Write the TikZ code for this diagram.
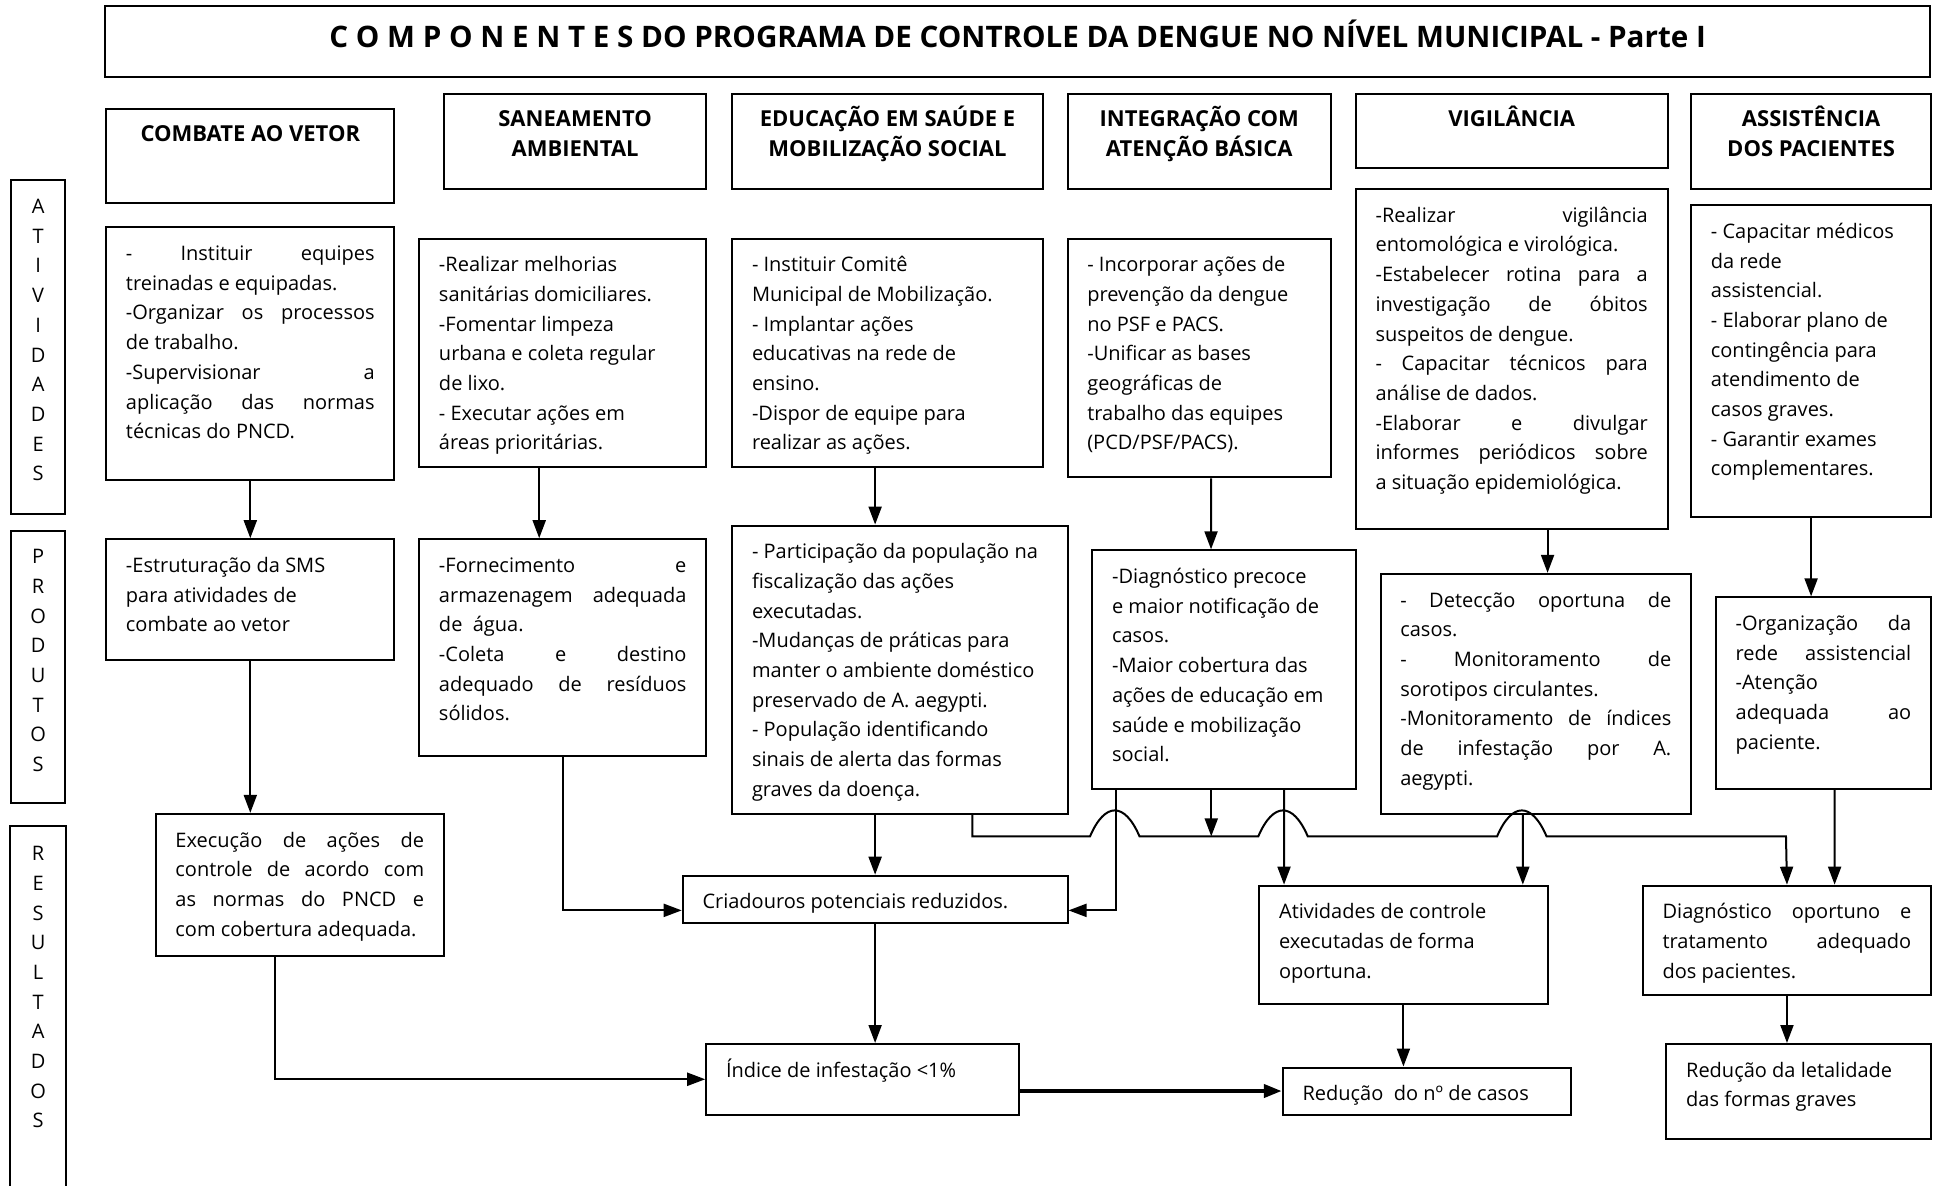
\documentclass[tikz,border=0pt]{standalone}
\usepackage{fontspec}
\setmainfont{Open Sans}
\usetikzlibrary{arrows.meta,positioning}
\newlength{\unitpx}
\setlength{\unitpx}{0.6186pt}
\newcommand{\cellbox}[3]{\parbox[c][#2\unitpx][t]{#1\unitpx}{\leavevmode\strut#3}}
\newcommand{\jl}[1]{\makebox[\linewidth][s]{#1}}

\begin{document}
\begin{tikzpicture}[
    x=0.6186pt, y=-0.6186pt,
    cell/.style={rectangle, draw, line width=1pt, anchor=north west, inner xsep=16\unitpx, inner ysep=10\unitpx, font=\fontsize{10}{14.85}\selectfont},
    head/.style={cell, inner xsep=4\unitpx, font=\bfseries\fontsize{11}{14.85}\selectfont},
    side/.style={rectangle, draw, line width=1pt, anchor=north west, inner xsep=0pt, inner ysep=10\unitpx, font=\fontsize{10}{14.85}\selectfont},
    arrow/.style={-{Triangle[length=9pt,width=6.5pt]}, line width=1pt},
    link/.style={line width=1pt}
]
\useasboundingbox (0,0) rectangle (1568,958);

% Title
\node[draw, line width=1pt, minimum width=1475\unitpx, minimum height=57\unitpx, text height=11pt, text depth=5.4pt, font=\bfseries\fontsize{14.8}{18}\selectfont] (title) at (822.5,33.5) {C O M P O N E N T E S DO PROGRAMA DE CONTROLE DA DENGUE NO NÍVEL MUNICIPAL - Parte I};

% Side labels
\node[side] (s1) at (8,145) {\cellbox{44}{250}{\centering A\\T\\I\\V\\I\\D\\A\\D\\E\\S}\hspace{14\unitpx}};
\node[side] (s2) at (8,428) {\cellbox{44}{200}{\centering P\\R\\O\\D\\U\\T\\O\\S}\hspace{14\unitpx}};
\node[side, draw=none] (s3) at (8,668) {\cellbox{44}{270}{\centering R\\E\\S\\U\\L\\T\\A\\D\\O\\S}\hspace{14\unitpx}};
\draw[link] (s3.south west) -- (s3.north west) -- (s3.north east) -- (s3.south east);

% Components
\node[head] (h1) at (85,87) {\cellbox{225}{56}{\centering COMBATE AO VETOR}};
\node[head] (h2) at (358,75) {\cellbox{204}{57}{\centering SANEAMENTO\\AMBIENTAL}};
\node[head] (h3) at (591,75) {\cellbox{243}{57}{\centering EDUCAÇÃO EM SAÚDE E\\MOBILIZAÇÃO SOCIAL}};
\node[head] (h4) at (862,75) {\cellbox{205}{57}{\centering INTEGRAÇÃO COM\\ATENÇÃO BÁSICA}};
\node[head] (h5) at (1095,75) {\cellbox{244}{40}{\centering VIGILÂNCIA}};
\node[head] (h6) at (1366,75) {\cellbox{186}{57}{\centering ASSISTÊNCIA\\DOS PACIENTES}};

% Atividades
\node[cell] (a1) at (85,183) {\cellbox{201}{184}{\jl{- Instituir equipes}\\treinadas e equipadas.\\\jl{-Organizar os processos}\\de trabalho.\\\jl{-Supervisionar a}\\\jl{aplicação das normas}\\técnicas do PNCD.}};
\node[cell] (a2) at (338,192) {\cellbox{200}{165}{-Realizar melhorias\\sanitárias domiciliares.\\-Fomentar limpeza\\urbana e coleta regular\\de lixo.\\- Executar ações em\\áreas prioritárias.}};
\node[cell] (a3) at (591,192) {\cellbox{219}{165}{- Instituir Comitê\\Municipal de Mobilização.\\- Implantar ações\\educativas na rede de\\ensino.\\-Dispor de equipe para\\realizar as ações.}};
\node[cell] (a4) at (862,192) {\cellbox{181}{173}{- Incorporar ações de\\prevenção da dengue\\no PSF e PACS.\\-Unificar as bases\\geográficas de\\trabalho das equipes\\(PCD/PSF/PACS).}};
\node[cell] (a5) at (1095,152) {\cellbox{220}{255}{\jl{-Realizar vigilância}\\entomológica e virológica.\\\jl{-Estabelecer rotina para a}\\\jl{investigação de óbitos}\\suspeitos de dengue.\\\jl{- Capacitar técnicos para}\\análise de dados.\\\jl{-Elaborar e divulgar}\\\jl{informes periódicos sobre}\\a situação epidemiológica.}};
\node[cell] (a6) at (1366,165) {\cellbox{162}{232}{- Capacitar médicos\\da rede\\assistencial.\\- Elaborar plano de\\contingência para\\atendimento de\\casos graves.\\- Garantir exames\\complementares.}};

% Produtos
\node[cell] (p1) at (85,435) {\cellbox{201}{78}{-Estruturação da SMS\\para atividades de\\combate ao vetor}};
\node[cell] (p2) at (338,435) {\cellbox{200}{155}{\jl{-Fornecimento e}\\\jl{armazenagem adequada}\\de\ \ água.\\\jl{-Coleta e destino}\\\jl{adequado de resíduos}\\sólidos.}};
\node[cell] (p3) at (591,424) {\cellbox{239}{213}{- Participação da população na\\fiscalização das ações\\executadas.\\-Mudanças de práticas para\\manter o ambiente doméstico\\preservado de A. aegypti.\\- População identificando\\sinais de alerta das formas\\graves da doença.}};
\node[cell] (p4) at (882,444) {\cellbox{181}{173}{-Diagnóstico precoce\\e maior notificação de\\casos.\\-Maior cobertura das\\ações de educação em\\saúde e mobilização\\social.}};
\node[cell] (p5) at (1115,463) {\cellbox{219}{174}{\jl{- Detecção oportuna de}\\casos.\\\jl{- Monitoramento de}\\sorotipos circulantes.\\\jl{-Monitoramento de índices}\\\jl{de infestação por A.}\\aegypti.}};
\node[cell] (p6) at (1386,482) {\cellbox{142}{135}{\jl{-Organização da}\\\jl{rede assistencial}\\-Atenção\\\jl{adequada ao}\\paciente.}};

% Resultados
\node[cell] (r1) at (125,657) {\cellbox{201}{95}{\jl{Execução de ações de}\\\jl{controle de acordo com}\\\jl{as normas do PNCD e}\\com cobertura adequada.}};
\node[cell] (crd) at (551,707) {\cellbox{279}{18}{Criadouros potenciais reduzidos.}};
\node[cell] (atv) at (1017,715) {\cellbox{201}{76}{Atividades de controle\\executadas de forma\\oportuna.}};
\node[cell] (dia) at (1327,715) {\cellbox{201}{68}{\jl{Diagnóstico oportuno e}\\\jl{tratamento adequado}\\dos pacientes.}};
\node[cell] (idx) at (570,843) {\cellbox{221}{37}{Índice de infestação <1\%}};
\node[cell] (red) at (1036,862) {\cellbox{201}{18}{Redução\ \ do nº de casos}};
\node[cell] (let) at (1346,843) {\cellbox{182}{57}{Redução da letalidade\\das formas graves}};

\coordinate (bus) at (979,676);

% Arrows
\draw[arrow] (a1.south) -- (p1.north);
\draw[arrow] (p1.south) -- (p1.south |- r1.north);
\draw[arrow] ([xshift=-19\unitpx]a2.south) -- ([xshift=-19\unitpx]p2.north);
\draw[arrow] (p2.south) |- ([yshift=-9\unitpx]crd.west);
\draw[arrow] (a3.south -| crd.north) -- (p3.north -| crd.north);
\draw[arrow] (p3.south -| crd.north) -- (crd.north);
\draw[arrow] (crd.south) -- (crd.south |- idx.north);
\draw[arrow] ([xshift=-20\unitpx]r1.south) |- (idx.west);
\draw[arrow, line width=2pt] (idx.east |- red.west) -- (red.west);
\draw[arrow] ([xshift=9.5\unitpx]a4.south) -- ([xshift=-10.5\unitpx]p4.north);
\draw[arrow] ([xshift=29\unitpx]a5.south) -- ([xshift=9.5\unitpx]p5.north);
\draw[arrow] (a6.south) -- (a6.south |- p6.north);
\draw[arrow] ([xshift=9\unitpx]p6.south) -- ([xshift=38.5\unitpx]dia.north);
\draw[arrow] ([xshift=-87.5\unitpx]p4.south) |- ([yshift=-9\unitpx]crd.east);
\draw[arrow] (p4.south -| bus) -- (bus);
\draw[arrow] ([xshift=48.5\unitpx]p4.south) -- ([xshift=-96.5\unitpx]atv.north);
\draw[arrow] ([xshift=-10.5\unitpx]p5.south) -- ([xshift=96.5\unitpx]atv.north);
\draw[arrow] (atv.south) -- (atv.south |- red.north);
\draw[arrow] (dia.south) -- (dia.south |- let.north);

% line with hops
\draw[arrow] ([xshift=58.5\unitpx]p3.south) |- (881,676)
    .. controls (893,648) and (909,648) .. (921,676) -- (1017,676)
    .. controls (1029,648) and (1045,648) .. (1057,676) -- (1210,676)
    .. controls (1222,648) and (1238,648) .. (1250,676) -- (1443.5,676) -- (dia.north);

\end{tikzpicture}
\end{document}
